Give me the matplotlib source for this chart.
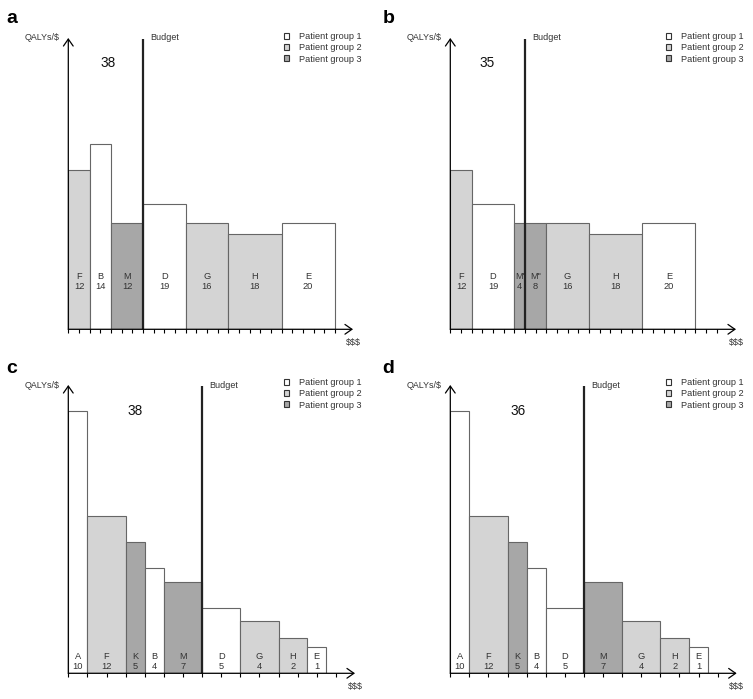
import matplotlib
matplotlib.use("Agg")
import matplotlib.pyplot as plt
from matplotlib.patches import Patch
import numpy as np

plt.rcParams['font.family'] = ['Liberation Sans', 'DejaVu Sans']

#*******************************************************************************
# Data: cost (width, $ units), QALYs gained (area), patient group
#*******************************************************************************
a_labels = ["F", "B", "M", "D", "G", "H", "E"]
a_costs  = [2, 2, 3, 4, 4, 5, 5]
a_qalys  = [12, 14, 12, 19, 16, 18, 20]
a_groups = [2, 1, 3, 1, 2, 2, 1]

b_labels = ["F", "D", "M'", 'M"', "G", "H", "E"]
b_costs  = [2, 4, 1, 2, 4, 5, 5]
b_qalys  = [12, 19, 4, 8, 16, 18, 20]
b_groups = [2, 1, 3, 3, 2, 2, 1]

c_labels = ["A", "F", "K", "B", "M", "D", "G", "H", "E"]
c_costs  = [1, 2, 1, 1, 2, 2, 2, 1.5, 1]
c_qalys  = [10, 12, 5, 4, 7, 5, 4, 2, 1]
c_groups = [1, 2, 3, 1, 3, 1, 2, 2, 1]

d_labels = ["A", "F", "K", "B", "D", "M", "G", "H", "E"]
d_costs  = [1, 2, 1, 1, 2, 2, 2, 1.5, 1]
d_qalys  = [10, 12, 5, 4, 5, 7, 4, 2, 1]
d_groups = [1, 2, 3, 1, 1, 3, 2, 2, 1]

budgets = [7, 7, 7, 7]
totals  = [38, 35, 38, 36]
n_ticks = [25, 25, 14, 14]

group_names  = ["Patient group 1", "Patient group 2", "Patient group 3"]
group_colors = {1: "#ffffff", 2: "#d4d4d4", 3: "#a7a7a7"}

#*******************************************************************************
# Layout (pixels, from top-left of a 753x699 figure)
#*******************************************************************************
W, H = 753, 699
# rect = left, axis-y (bottom), right arrow tip, top arrow tip
panels = [
    dict(letter="a", rect=(68.3, 329.3, 353.0, 38.0), xmax=26.7, lab_y=1.8, tot=(3.7, 10.05),
         letter_xy=(6.5, 23), legend_xy=(362, 32)),
    dict(letter="b", rect=(450.3, 329.3, 736.0, 38.0), xmax=26.8, lab_y=1.8, tot=(3.5, 10.05),
         letter_xy=(382.5, 23), legend_xy=(744, 32)),
    dict(letter="c", rect=(68.3, 673.3, 355.0, 385.0), xmax=15.0, lab_y=0.45, tot=(3.5, 10.0),
         letter_xy=(6.5, 373), legend_xy=(362, 378)),
    dict(letter="d", rect=(450.3, 673.3, 736.7, 385.0), xmax=15.0, lab_y=0.45, tot=(3.55, 10.0),
         letter_xy=(382.5, 373), legend_xy=(744, 378)),
]
data = [
    (a_labels, a_costs, a_qalys, a_groups),
    (b_labels, b_costs, b_qalys, b_groups),
    (c_labels, c_costs, c_qalys, c_groups),
    (d_labels, d_costs, d_qalys, d_groups),
]

fig = plt.figure(figsize=(W / 100, H / 100), dpi=100)

for p, (labels, costs, qalys, groups), budget, total, nt in zip(panels, data, budgets, totals, n_ticks):
    x0, y0, x1, y1 = p["rect"]
    ax = fig.add_axes([x0 / W, 1 - y0 / H, (x1 - x0) / W, (y0 - y1) / H])
    ax.set_xlim(0, p["xmax"])
    ax.set_ylim(0, 11.0)

    costs = np.array(costs, dtype=float)
    qalys = np.array(qalys, dtype=float)
    lefts = np.concatenate([[0], np.cumsum(costs)[:-1]])
    heights = qalys / costs

    ax.bar(lefts, heights, width=costs, align="edge",
           color=[group_colors[g] for g in groups],
           edgecolor="#666666", linewidth=0.8, zorder=2)

    for lx, w, lab, q in zip(lefts, costs, labels, qalys):
        ax.text(lx + w / 2, p["lab_y"], "%s\n%d" % (lab, q), ha="center", va="center",
                fontsize=6.7, color="#333333", linespacing=1.22, zorder=4)

    # budget line
    ax.plot([budget, budget], [0, 10.97], color="#222222", lw=1.6, zorder=5,
            solid_capstyle="butt", clip_on=False)
    ax.annotate("Budget", xy=(budget, 11.0), xytext=(5.5, 0), textcoords="offset points",
                ha="left", va="center", fontsize=6.5, color="#333333")

    # axes with open arrowheads
    arrow = dict(arrowstyle="->,head_length=0.5,head_width=0.35", color="black",
                 lw=0.9, shrinkA=0, shrinkB=0)
    ax.annotate("", xy=(1, 0), xycoords="axes fraction", xytext=(0, 0),
                textcoords="axes fraction", arrowprops=arrow, zorder=6)
    ax.annotate("", xy=(0, 1), xycoords="axes fraction", xytext=(0, 0),
                textcoords="axes fraction", arrowprops=arrow, zorder=6)
    ax.annotate("QALYs/$", xy=(0, 1), xycoords="axes fraction", xytext=(-6, 0),
                textcoords="offset points", ha="right", va="center",
                fontsize=6.4, color="#333333")
    ax.annotate("$$$", xy=(1, 0), xycoords="axes fraction", xytext=(0, -9.5),
                textcoords="offset points", ha="center", va="center",
                fontsize=6.4, color="#333333")

    ax.text(p["tot"][0], p["tot"][1], str(total), ha="center", va="center",
            fontsize=9.8, color="#111111")

    for s in ax.spines.values():
        s.set_visible(False)
    ax.set_xticks(np.arange(0, nt + 1))
    ax.set_yticks([])
    ax.tick_params(axis="x", direction="out", length=3, width=0.8, labelbottom=False)
    ax.patch.set_visible(False)

    handles = [Patch(facecolor=group_colors[g], edgecolor="#333333", linewidth=0.8)
               for g in (1, 2, 3)]
    lx_, ly_ = p["legend_xy"]
    ax.legend(handles, group_names, loc="upper right",
              bbox_to_anchor=(lx_ / W, 1 - ly_ / H), bbox_transform=fig.transFigure,
              frameon=False, fontsize=6.6, handlelength=0.6, handleheight=0.6,
              handletextpad=1.1, labelspacing=0.25, borderpad=0, borderaxespad=0,
              labelcolor="#333333")

    fig.text(p["letter_xy"][0] / W, 1 - p["letter_xy"][1] / H, p["letter"], fontsize=14,
             fontweight="bold", ha="left", va="baseline")

fig.savefig("out.png", dpi=100)
